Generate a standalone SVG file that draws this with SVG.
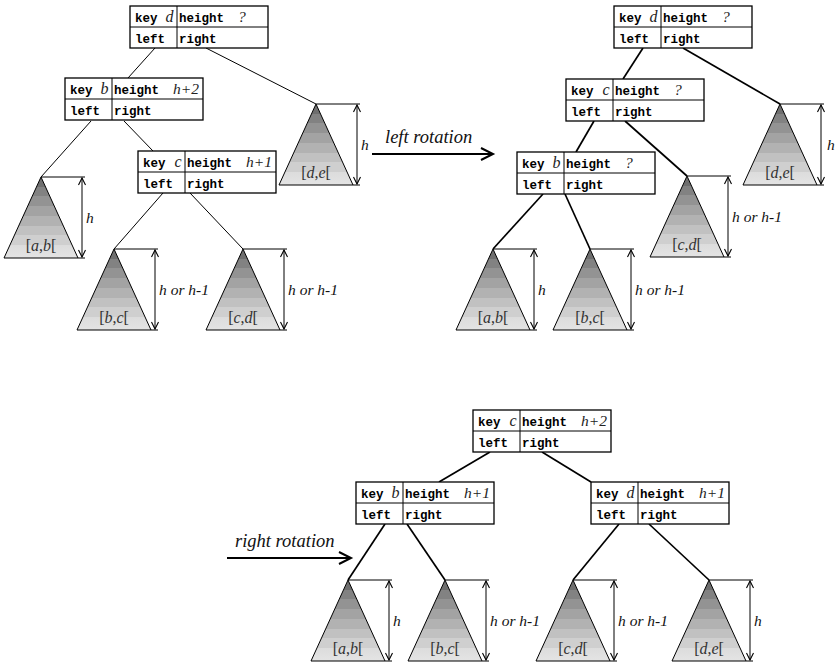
<svg xmlns="http://www.w3.org/2000/svg" xmlns:xlink="http://www.w3.org/1999/xlink" width="836" height="666" viewBox="0 0 836 666">
<style>
.box{fill:#fff;stroke:#000;stroke-width:1.3}
.sep{stroke:#000;stroke-width:1}
.mono{font-family:"Liberation Mono","Courier New",monospace;font-weight:bold;font-size:12.5px;fill:#000}
.var{font-family:"Liberation Serif","Times New Roman",serif;font-style:italic;font-size:16px;fill:#222}
.val{font-family:"Liberation Serif","Times New Roman",serif;font-style:italic;font-size:15.5px;fill:#222}
.lab{font-family:"Liberation Serif","Times New Roman",serif;font-size:16px;fill:#333;text-anchor:middle}
.ht{font-family:"Liberation Serif","Times New Roman",serif;font-style:italic;font-size:15.5px;fill:#111}
.rot{font-family:"Liberation Serif","Times New Roman",serif;font-style:italic;font-size:18.5px;fill:#111}
.thin{stroke:#000;stroke-width:1;fill:none}
.thick{stroke:#000;stroke-width:1.7;fill:none}
.rarrow{stroke:#000;stroke-width:2;fill:none}
</style>
<defs>
<linearGradient id="grad" x1="0" y1="0" x2="0" y2="1">
<stop offset="0" stop-color="#6e6e6e"/><stop offset="0.12" stop-color="#6e6e6e"/>
<stop offset="0.12" stop-color="#828282"/><stop offset="0.24" stop-color="#828282"/>
<stop offset="0.24" stop-color="#939393"/><stop offset="0.36" stop-color="#939393"/>
<stop offset="0.36" stop-color="#a3a3a3"/><stop offset="0.48" stop-color="#a3a3a3"/>
<stop offset="0.48" stop-color="#b2b2b2"/><stop offset="0.60" stop-color="#b2b2b2"/>
<stop offset="0.60" stop-color="#c1c1c1"/><stop offset="0.72" stop-color="#c1c1c1"/>
<stop offset="0.72" stop-color="#cfcfcf"/><stop offset="0.84" stop-color="#cfcfcf"/>
<stop offset="0.84" stop-color="#dcdcdc"/><stop offset="1" stop-color="#e4e4e4"/>
</linearGradient>
<marker id="ah" viewBox="-8 -5 10 10" markerWidth="10" markerHeight="10" refX="0" refY="0" orient="auto-start-reverse" markerUnits="userSpaceOnUse">
<path d="M-7,-3.5 L0,0 L-7,3.5" fill="none" stroke="#000" stroke-width="1.1"/>
</marker>
<g id="tri">
<polygon points="0,0 -37,81 37,81" fill="url(#grad)" stroke="#000" stroke-width="1"/>
<line x1="0" y1="0" x2="44" y2="0" stroke="#000" stroke-width="1"/>
<line x1="37" y1="81" x2="44" y2="81" stroke="#000" stroke-width="1"/>
<line x1="41" y1="1" x2="41" y2="80" stroke="#000" stroke-width="1" marker-start="url(#ah)" marker-end="url(#ah)"/>
</g>
<g id="nodebox">
<rect class="box" x="0" y="0" width="138" height="42"/>
<line class="sep" x1="0" y1="21" x2="138" y2="21"/>
<line class="sep" x1="47" y1="0" x2="47" y2="42"/>
<text class="mono" x="5" y="16">key</text>
<text class="mono" x="49" y="16">height</text>
<text class="mono" x="5" y="37">left</text>
<text class="mono" x="49" y="37">right</text>
</g>
</defs>

<g id="connectors">
<line class="thin" x1="155" y1="48" x2="128" y2="78"/>
<line class="thin" x1="206" y1="48" x2="316" y2="104"/>
<line class="thin" x1="91" y1="121" x2="41" y2="177"/>
<line class="thin" x1="124" y1="121" x2="153" y2="151"/>
<line class="thin" x1="163" y1="193" x2="114" y2="249"/>
<line class="thin" x1="190" y1="193" x2="243" y2="249"/>

<line class="thick" x1="643" y1="48" x2="623" y2="79"/>
<line class="thick" x1="683" y1="48" x2="780" y2="104"/>
<line class="thick" x1="594" y1="121" x2="576" y2="152"/>
<line class="thick" x1="625" y1="121" x2="687" y2="176"/>
<line class="thick" x1="543" y1="194" x2="493" y2="249"/>
<line class="thick" x1="565" y1="194" x2="590" y2="249"/>

<line class="thick" x1="490" y1="452" x2="439" y2="482"/>
<line class="thick" x1="542" y1="452" x2="591" y2="482"/>
<line class="thick" x1="385" y1="524" x2="348" y2="580"/>
<line class="thick" x1="407" y1="524" x2="445" y2="580"/>
<line class="thick" x1="619" y1="524" x2="573" y2="580"/>
<line class="thick" x1="649" y1="524" x2="709" y2="580"/>
</g>

<g id="rotations">
<text class="rot" x="385" y="143">left rotation</text>
<line class="rarrow" x1="372" y1="154" x2="493" y2="154"/>
<polyline class="rarrow" points="481,148 493,154 481,160"/>
<text class="rot" x="235" y="547">right rotation</text>
<line class="rarrow" x1="227" y1="558" x2="351" y2="558"/>
<polyline class="rarrow" points="339,552 351,558 339,564"/>
</g>

<!-- Left diagram nodes -->
<g id="L-node-d" transform="translate(130,6)"><use xlink:href="#nodebox"/><text class="var" x="43.5" y="16" text-anchor="end">d</text><text class="val" x="108" y="16">?</text></g>
<g id="L-node-b" transform="translate(65,78)"><use xlink:href="#nodebox"/><text class="var" x="43.5" y="16" text-anchor="end">b</text><text class="val" x="108" y="16">h+2</text></g>
<g id="L-node-c" transform="translate(138,151)"><use xlink:href="#nodebox"/><text class="var" x="43.5" y="16" text-anchor="end">c</text><text class="val" x="108" y="16">h+1</text></g>

<g id="L-tree-ab" transform="translate(41,177)"><use xlink:href="#tri"/><text class="lab" x="0" y="74">[<tspan font-style="italic">a</tspan>,<tspan font-style="italic">b</tspan>[</text><text class="ht" x="45" y="46">h</text></g>
<g id="L-tree-bc" transform="translate(114,249)"><use xlink:href="#tri"/><text class="lab" x="0" y="74">[<tspan font-style="italic">b</tspan>,<tspan font-style="italic">c</tspan>[</text><text class="ht" x="45" y="46">h or h-1</text></g>
<g id="L-tree-cd" transform="translate(243,249)"><use xlink:href="#tri"/><text class="lab" x="0" y="74">[<tspan font-style="italic">c</tspan>,<tspan font-style="italic">d</tspan>[</text><text class="ht" x="45" y="46">h or h-1</text></g>
<g id="L-tree-de" transform="translate(316,104)"><use xlink:href="#tri"/><text class="lab" x="0" y="74">[<tspan font-style="italic">d</tspan>,<tspan font-style="italic">e</tspan>[</text><text class="ht" x="45" y="46">h</text></g>

<!-- Right diagram nodes -->
<g id="R-node-d" transform="translate(614,6)"><use xlink:href="#nodebox"/><text class="var" x="43.5" y="16" text-anchor="end">d</text><text class="val" x="108" y="16">?</text></g>
<g id="R-node-c" transform="translate(566,79)"><use xlink:href="#nodebox"/><text class="var" x="43.5" y="16" text-anchor="end">c</text><text class="val" x="108" y="16">?</text></g>
<g id="R-node-b" transform="translate(517,152)"><use xlink:href="#nodebox"/><text class="var" x="43.5" y="16" text-anchor="end">b</text><text class="val" x="108" y="16">?</text></g>

<g id="R-tree-ab" transform="translate(493,249)"><use xlink:href="#tri"/><text class="lab" x="0" y="74">[<tspan font-style="italic">a</tspan>,<tspan font-style="italic">b</tspan>[</text><text class="ht" x="45" y="46">h</text></g>
<g id="R-tree-bc" transform="translate(590,249)"><use xlink:href="#tri"/><text class="lab" x="0" y="74">[<tspan font-style="italic">b</tspan>,<tspan font-style="italic">c</tspan>[</text><text class="ht" x="45" y="46">h or h-1</text></g>
<g id="R-tree-cd" transform="translate(687,176)"><use xlink:href="#tri"/><text class="lab" x="0" y="74">[<tspan font-style="italic">c</tspan>,<tspan font-style="italic">d</tspan>[</text><text class="ht" x="45" y="46">h or h-1</text></g>
<g id="R-tree-de" transform="translate(780,104)"><use xlink:href="#tri"/><text class="lab" x="0" y="74">[<tspan font-style="italic">d</tspan>,<tspan font-style="italic">e</tspan>[</text><text class="ht" x="47" y="46">h</text></g>

<!-- Bottom diagram nodes -->
<g id="B-node-c" transform="translate(473,410)"><use xlink:href="#nodebox"/><text class="var" x="43.5" y="16" text-anchor="end">c</text><text class="val" x="108" y="16">h+2</text></g>
<g id="B-node-b" transform="translate(356,482)"><use xlink:href="#nodebox"/><text class="var" x="43.5" y="16" text-anchor="end">b</text><text class="val" x="108" y="16">h+1</text></g>
<g id="B-node-d" transform="translate(591,482)"><use xlink:href="#nodebox"/><text class="var" x="43.5" y="16" text-anchor="end">d</text><text class="val" x="108" y="16">h+1</text></g>

<g id="B-tree-ab" transform="translate(348,580)"><use xlink:href="#tri"/><text class="lab" x="0" y="74">[<tspan font-style="italic">a</tspan>,<tspan font-style="italic">b</tspan>[</text><text class="ht" x="45" y="46">h</text></g>
<g id="B-tree-bc" transform="translate(445,580)"><use xlink:href="#tri"/><text class="lab" x="0" y="74">[<tspan font-style="italic">b</tspan>,<tspan font-style="italic">c</tspan>[</text><text class="ht" x="45" y="46">h or h-1</text></g>
<g id="B-tree-cd" transform="translate(573,580)"><use xlink:href="#tri"/><text class="lab" x="0" y="74">[<tspan font-style="italic">c</tspan>,<tspan font-style="italic">d</tspan>[</text><text class="ht" x="45" y="46">h or h-1</text></g>
<g id="B-tree-de" transform="translate(709,580)"><use xlink:href="#tri"/><text class="lab" x="0" y="74">[<tspan font-style="italic">d</tspan>,<tspan font-style="italic">e</tspan>[</text><text class="ht" x="45" y="46">h</text></g>
</svg>
